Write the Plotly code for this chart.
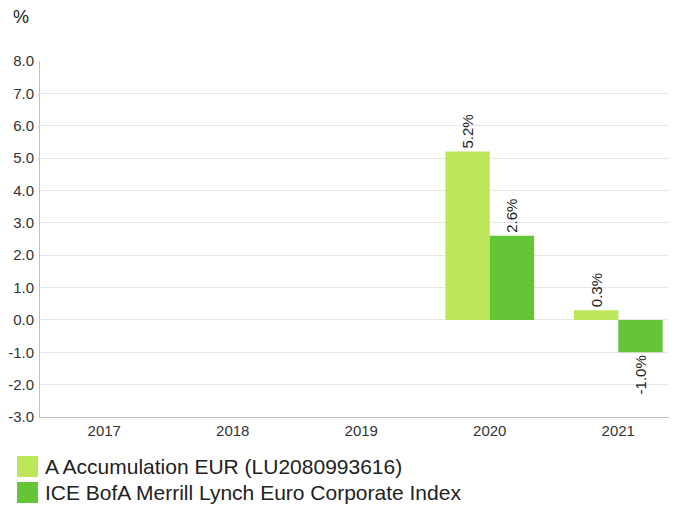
import plotly.graph_objects as go

years = ["2017", "2018", "2019", "2020", "2021"]
fund_name = "A Accumulation EUR (LU2080993616)"
index_name = "ICE BofA Merrill Lynch Euro Corporate Index"
fund_values = [None, None, None, 5.2, 0.3]
index_values = [None, None, None, 2.6, -1.0]
y_ticks = [-3.0, -2.0, -1.0, 0.0, 1.0, 2.0, 3.0, 4.0, 5.0, 6.0, 7.0, 8.0]

light = "#bde65a"
dark = "#64c536"
font_family = "Liberation Sans, Arial, sans-serif"

# the page body has an 8px margin; figure coords = page coords - 8
W, H = 669, 500
L, T, B = 32, 53, 91
PW, PH = W - L, H - T - B


def px_x(x):
    return (x - L) / PW


def px_y(y):
    return (H - B - y) / PH


def labels(vals):
    return ["" if v is None else f"{v:.1f}%" for v in vals]


fig = go.Figure()
fig.add_bar(x=years, y=fund_values, name=fund_name, marker_color=light,
            marker_line_width=0, text=labels(fund_values), textposition="outside",
            textangle=-90, textfont=dict(size=15, color="#222222"), cliponaxis=False)
fig.add_bar(x=years, y=index_values, name=index_name, marker_color=dark,
            marker_line_width=0, text=labels(index_values), textposition="outside",
            textangle=-90, textfont=dict(size=15, color="#222222"), cliponaxis=False)

fig.update_layout(
    width=W, height=H,
    margin=dict(l=L, r=0, t=T, b=B, autoexpand=False),
    paper_bgcolor="white", plot_bgcolor="white",
    font=dict(family=font_family, color="#333333"),
    barmode="group", bargap=0.31, bargroupgap=0.0,
    showlegend=False,
    xaxis=dict(type="category", range=[-0.5, 4.457], showgrid=False,
               showline=True, linecolor="#c0c0c0", linewidth=1,
               ticks="", tickfont=dict(size=15, color="#333333")),
    yaxis=dict(range=[-3, 8], tickvals=y_ticks,
               ticktext=[f"{v:.1f}" for v in y_ticks],
               showgrid=True, gridcolor="#e6e6e6", gridwidth=1,
               zeroline=False, showline=True, linecolor="#c0c0c0",
               linewidth=1, ticks="", ticklabelstandoff=2,
               tickfont=dict(size=15, color="#333333")),
)

fig.add_annotation(xref="paper", yref="paper", x=px_x(3), y=px_y(9),
                   text="%", showarrow=False, xanchor="left", yanchor="middle",
                   font=dict(size=18, color="#222222"))

# custom legend (larger swatches like reference)
for i, (name, col) in enumerate([(fund_name, light), (index_name, dark)]):
    ytop = 448 + i * 26
    fig.add_shape(type="rect", xref="paper", yref="paper",
                  x0=px_x(9), x1=px_x(30),
                  y0=px_y(ytop), y1=px_y(ytop + 21),
                  fillcolor=col, line_width=0)
    fig.add_annotation(xref="paper", yref="paper", x=px_x(35),
                       y=px_y(ytop + 10.5), text=name, showarrow=False,
                       xanchor="left", yanchor="middle",
                       font=dict(size=21, color="#222222"))

fig.write_html("out.html")
